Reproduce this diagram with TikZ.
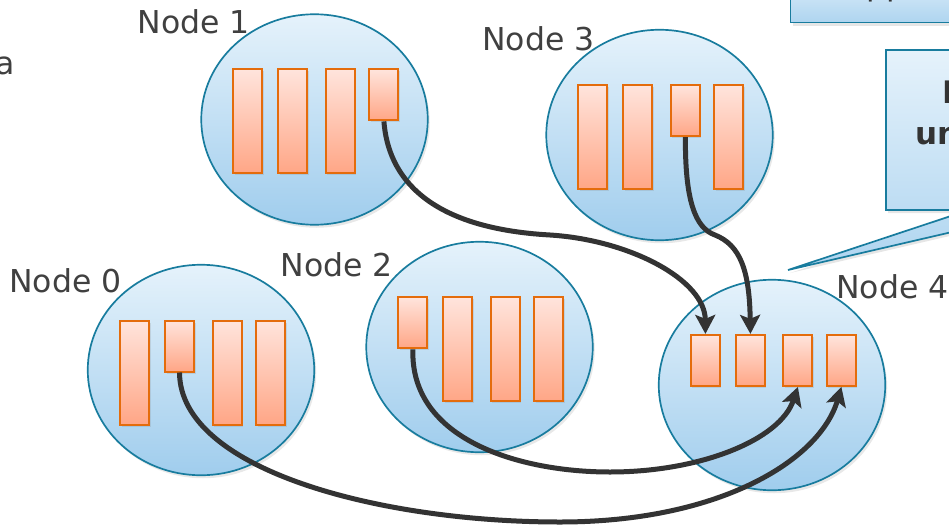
\documentclass[tikz,border=0pt]{standalone}
\usepackage{fontspec}
\setmainfont{DejaVu Sans}
\usetikzlibrary{shapes.geometric,shadows,arrows.meta}
\definecolor{rim}{RGB}{24,124,158}
\definecolor{skytop}{RGB}{229,242,251}
\definecolor{skybot}{RGB}{160,205,237}
\definecolor{slotedge}{RGB}{228,108,12}
\definecolor{slottop}{RGB}{255,228,220}
\definecolor{slotbot}{RGB}{255,166,134}
\definecolor{ink}{RGB}{51,51,51}
\definecolor{txt}{RGB}{64,64,64}
\tikzset{
    machine/.style={ellipse, draw=rim, line width=1.7pt, top color=skytop,
    	bottom color=skybot, minimum width=226.5pt, minimum height=210.5pt,
    	inner sep=0pt, drop shadow={opacity=.18, shadow xshift=2pt, shadow yshift=-3pt}}
}
\tikzset{
    slot/.style={rectangle, draw=slotedge, line width=2pt, top color=slottop,
    	bottom color=slotbot, minimum width=29pt, inner sep=0pt, anchor=north west,
    	drop shadow={opacity=.2, shadow xshift=1.5pt, shadow yshift=-2pt}},
    longslot/.style={slot, minimum height=104pt},
    shortslot/.style={slot, minimum height=51pt}
}
\tikzset{
    nodename/.style={anchor=base west, inner sep=0pt, text=txt,
    	font=\fontsize{31.5}{37}\selectfont},
    notebox/.style={draw=rim, line width=1.7pt, top color=skytop, bottom color=skybot!85!white,
    	drop shadow={opacity=.2, shadow xshift=2pt, shadow yshift=-3pt}},
    move/.style={draw=ink, line width=5pt, -{Stealth[length=19pt,width=20pt,inset=4pt]}}
}

\begin{document}
\begin{tikzpicture}[x=1pt, y=-1pt]
  \useasboundingbox (0,0) rectangle (949,524);

  % notes on the right
  \path[notebox] (790.6,-30) rectangle (1100,22.6);
  \node[nodename, text=ink] (pa) at (866,-4.5) {pp};
  \path[notebox] (886,50) -- (1100,50) -- (1100,210) -- (1047,210) -- (788,270)
    -- (969,210) -- (886,210) -- cycle;
  \node[nodename, text=ink, font=\bfseries\fontsize{31}{36}\selectfont] (pb) at (942,103) {I};
  \node[nodename, text=ink, font=\bfseries\fontsize{31}{36}\selectfont] (pc) at (915,144) {un};
  \node[nodename] (pd) at (-4.5,75) {a};

  \node[machine] (c0) at (201,370) {};
  \node[machine] (c1) at (314.5,119.5) {};
  \node[machine] (c2) at (479.5,347) {};
  \node[machine] (c3) at (659.5,135) {};
  \node[machine] (c4) at (772,385) {};

  \node[nodename] (l0) at (9,292) {Node 0};
  \node[nodename] (l1) at (137.5,33.5) {Node 1};
  \node[nodename] (l2) at (280.5,276.5) {Node 2};
  \node[nodename] (l3) at (482,50.5) {Node 3};
  \node[nodename] (l4) at (836,298) {Node 4};

  \node[longslot] (b00) at (119,319.5) {};
  \node[shortslot] (b01) at (164,319.5) {};
  \node[longslot] (b02) at (211.5,319.5) {};
  \node[longslot] (b03) at (255,319.5) {};

  \node[longslot] (b10) at (232.4,68.4) {};
  \node[longslot] (b11) at (277.4,68.4) {};
  \node[longslot] (b12) at (324.9,68.4) {};
  \node[shortslot] (b13) at (368.4,68.4) {};

  \node[shortslot] (b20) at (397.4,296.4) {};
  \node[longslot] (b21) at (442.4,296.4) {};
  \node[longslot] (b22) at (489.9,296.4) {};
  \node[longslot] (b23) at (533.4,296.4) {};

  \node[longslot] (b30) at (577.4,84.2) {};
  \node[longslot] (b31) at (622.4,84.2) {};
  \node[shortslot] (b32) at (669.9,84.2) {};
  \node[longslot] (b33) at (713.4,84.2) {};

  \node[shortslot] (b40) at (689.9,333.9) {};
  \node[shortslot] (b41) at (734.9,333.9) {};
  \node[shortslot] (b42) at (782.4,333.9) {};
  \node[shortslot] (b43) at (825.9,333.9) {};

  \draw[move] (b13.south) .. controls (388,175) and (425,228) .. (550,235)
    .. controls (630,240) and (705,280) .. (b40.north);
  \draw[move] (b32.south) .. controls (685,200) and (695,228) .. (715,235)
    .. controls (740,245) and (749.5,270) .. (b41.north);
  \draw[move] (b20.south) .. controls (410,440) and (520,472) .. (610,472)
    .. controls (700,472) and (780,440) .. (b42.south);
  \draw[move] (b01.south) .. controls (180,470) and (380,522) .. (560,522)
    .. controls (720,522) and (820,460) .. (b43.south);
\end{tikzpicture}
\end{document}
